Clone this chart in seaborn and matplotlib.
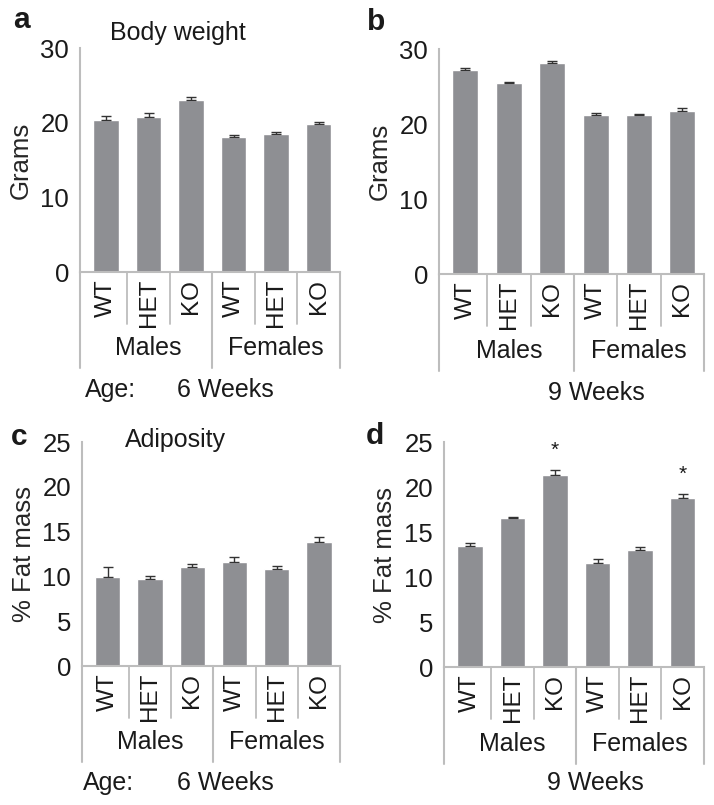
"""
Body weight and adiposity of WT / HET / KO mice at 6 and 9 weeks,
split by sex. Four bar panels (a-d) with SEM error bars.
"""

import matplotlib
matplotlib.use("Agg")
import matplotlib.pyplot as plt
import matplotlib.transforms as mtransforms
import pandas as pd
import seaborn as sns

GENOTYPES = ["WT", "HET", "KO", "WT", "HET", "KO"]
SEXES = ["Males", "Males", "Males", "Females", "Females", "Females"]
GROUP_LABELS = ["Males", "Females"]

BW_6WK = [20.4, 20.8, 23.0, 18.1, 18.5, 19.8]
BW_6WK_SEM = [0.5, 0.5, 0.5, 0.3, 0.3, 0.3]
BW_9WK = [27.2, 25.5, 28.1, 21.2, 21.2, 21.8]
BW_9WK_SEM = [0.3, 0.15, 0.3, 0.3, 0.1, 0.35]
FAT_6WK = [9.9, 9.7, 11.1, 11.6, 10.8, 13.8]
FAT_6WK_SEM = [1.2, 0.3, 0.3, 0.6, 0.4, 0.6]
FAT_9WK = [13.5, 16.6, 21.3, 11.6, 13.0, 18.8]
FAT_9WK_SEM = [0.3, 0.1, 0.6, 0.4, 0.3, 0.4]
FAT_9WK_SIG = [False, False, True, False, False, True]

BAR_COLOR = "#8e8f93"
AXIS_COLOR = "#bdbdbd"
FONT = 17.5

W, H = 714, 805


def px_rect(left, right, bottom, top):
    # pixel box -> figure fraction rect
    return [left / W, 1 - bottom / H, (right - left) / W, (bottom - top) / H]


def draw_panel(ax, values, sem, ymax, label_every, ylabel, sig=None):
    df = pd.DataFrame({
        "slot": [f"{s}-{g}" for s, g in zip(SEXES, GENOTYPES)],
        "value": values,
    })
    sns.barplot(data=df, x="slot", y="value", order=list(df["slot"]),
                color=BAR_COLOR, saturation=1, width=0.6, errorbar=None,
                ax=ax)
    xs = range(len(values))
    ax.errorbar(xs, values, yerr=[[0] * len(sem), sem], fmt="none",
                ecolor="#333333", elinewidth=1.0, capsize=3.5, capthick=1.0)

    if sig is not None:
        for x, v, e, s in zip(xs, values, sem, sig):
            if s:
                ax.text(x, v + e + 1.1, "*", ha="center", va="bottom",
                        fontsize=15)

    ax.set_xlim(-0.61, 5.5)
    ax.set_ylim(0, ymax)
    ax.set_yticks(range(0, ymax + 1, label_every))
    ax.set_yticks(range(0, ymax + 1, 5), minor=True)
    ax.tick_params(axis="y", which="both", length=6, width=1.3,
                   color=AXIS_COLOR, labelsize=18.5, pad=2)
    ax.set_xticks(list(xs))
    ax.set_xticklabels(GENOTYPES, rotation=90, fontsize=FONT)
    ax.tick_params(axis="x", length=0, pad=5)
    ax.set_xlabel("")
    ax.set_ylabel(ylabel, fontsize=FONT + 1)
    ax.yaxis.set_label_coords(-0.18, 0.5)

    for side in ("top", "right"):
        ax.spines[side].set_visible(False)
    for side in ("left", "bottom"):
        ax.spines[side].set_color(AXIS_COLOR)
        ax.spines[side].set_linewidth(1.5)

    # category separators hanging below the axis
    trans = mtransforms.blended_transform_factory(ax.transData, ax.transAxes)
    for x in (0.5, 1.5, 3.5, 4.5):
        ax.plot([x, x], [0, -0.23], transform=trans, clip_on=False,
                color=AXIS_COLOR, lw=1.3)
    for x in (-0.61, 2.5, 5.5):
        ax.plot([x, x], [0, -0.43], transform=trans, clip_on=False,
                color=AXIS_COLOR, lw=1.5)
    for x, name in zip((1, 4), GROUP_LABELS):
        ax.text(x, -0.34, name, transform=trans, ha="center", va="center",
                fontsize=FONT + 0.5)


def main():
    sns.set_theme(style="white")
    plt.rcParams["font.family"] = ["Liberation Sans", "DejaVu Sans"]
    plt.rcParams["text.color"] = "#1a1a1a"
    plt.rcParams["ytick.labelcolor"] = "#1a1a1a"
    plt.rcParams["xtick.labelcolor"] = "#1a1a1a"

    fig = plt.figure(figsize=(W / 100, H / 100), dpi=100)

    ax_a = fig.add_axes(px_rect(80, 340, 272, 48))
    ax_b = fig.add_axes(px_rect(439, 704, 274, 49))
    ax_c = fig.add_axes(px_rect(82, 340, 666, 442))
    ax_d = fig.add_axes(px_rect(444, 704, 667, 442))

    draw_panel(ax_a, BW_6WK, BW_6WK_SEM, 30, 10, "Grams")
    draw_panel(ax_b, BW_9WK, BW_9WK_SEM, 30, 10, "Grams")
    draw_panel(ax_c, FAT_6WK, FAT_6WK_SEM, 25, 5, "% Fat mass")
    draw_panel(ax_d, FAT_9WK, FAT_9WK_SEM, 25, 5, "% Fat mass",
               sig=FAT_9WK_SIG)

    def ftext(x, y, s, **kw):
        fig.text(x / W, 1 - y / H, s, va="baseline", **kw)

    ftext(13, 28, "a", fontsize=FONT + 4, fontweight="bold")
    ftext(367, 30, "b", fontsize=FONT + 4, fontweight="bold")
    ftext(11, 445, "c", fontsize=FONT + 4, fontweight="bold")
    ftext(366, 444, "d", fontsize=FONT + 4, fontweight="bold")

    ftext(110, 40, "Body weight", fontsize=FONT + 0.5)
    ftext(125, 447, "Adiposity", fontsize=FONT + 0.5)

    ftext(85, 397, "Age:", fontsize=FONT + 0.5)
    ftext(225, 397, "6 Weeks", fontsize=FONT + 0.5, ha="center")
    ftext(83, 790, "Age:", fontsize=FONT + 0.5)
    ftext(225, 790, "6 Weeks", fontsize=FONT + 0.5, ha="center")
    ftext(596, 400, "9 Weeks", fontsize=FONT + 0.5, ha="center")
    ftext(595, 790, "9 Weeks", fontsize=FONT + 0.5, ha="center")

    fig.savefig("out.png", dpi=100)
    plt.close(fig)


if __name__ == "__main__":
    main()
